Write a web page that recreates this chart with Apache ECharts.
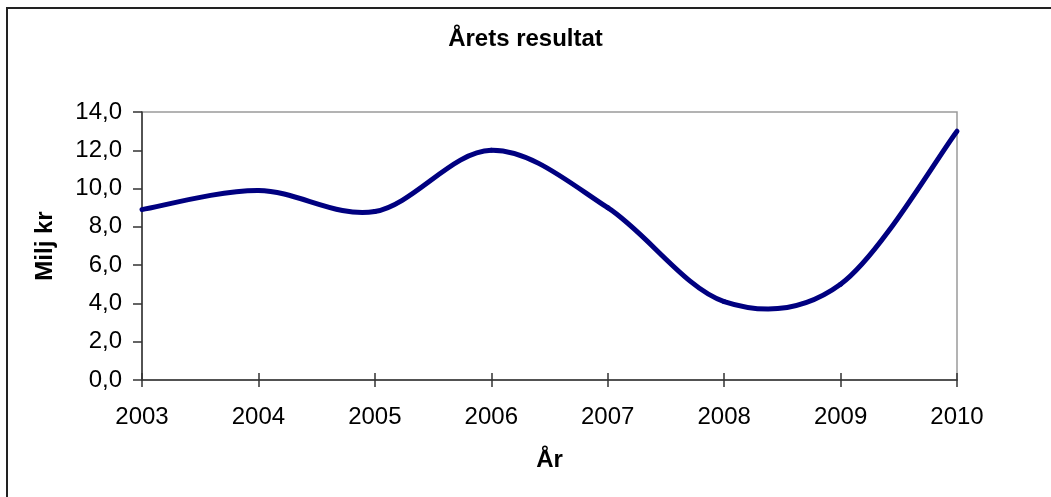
<!DOCTYPE html>
<html lang="sv">
<head>
    <meta charset="UTF-8">
    <title>Årets resultat</title>
    <style>
        html, body { margin: 0; padding: 0; background: #fff; }
        #main { width: 1051px; height: 497px; }
    </style>
</head>
<body>
<div id="main"></div>
<script src="https://cdn.jsdelivr.net/npm/echarts@6/dist/echarts.min.js"></script>
<script>
    // år på x-axeln
    var years = ['2003', '2004', '2005', '2006', '2007', '2008', '2009', '2010'];
    // årets resultat, milj kr
    var resultat = [8.9, 9.9, 8.8, 12.0, 9.0, 4.1, 5.0, 13.0];
    // y-axelns skala
    var yMin = 0, yMax = 14, yStep = 2;

    var font = 'Arial, "Liberation Sans", sans-serif';
    var myChart = echarts.init(document.getElementById('main'));

    // Excel-liknande utjämning (Catmull-Rom), ett segment per datapunkt
    function renderSmooth(params, api) {
        var i = params.dataIndex;
        var n = resultat.length;
        if (i >= n - 1) return null;
        var p = function (k) {
            k = Math.max(0, Math.min(n - 1, k));
            return api.coord([k, resultat[k]]);
        };
        var p0 = p(i - 1), p1 = p(i), p2 = p(i + 1), p3 = p(i + 2);
        return {
            type: 'bezierCurve',
            shape: {
                x1: p1[0], y1: p1[1],
                x2: p2[0], y2: p2[1],
                cpx1: p1[0] + (p2[0] - p0[0]) / 6,
                cpy1: p1[1] + (p2[1] - p0[1]) / 6,
                cpx2: p2[0] - (p3[0] - p1[0]) / 6,
                cpy2: p2[1] - (p3[1] - p1[1]) / 6
            },
            style: { stroke: '#000080', lineWidth: 5, fill: null, lineCap: 'round' }
        };
    }

    var option = {
        backgroundColor: '#fff',
        animation: false,
        title: {
            text: 'Årets resultat',
            left: 'center',
            top: 22,
            textStyle: { fontFamily: font, fontSize: 24, fontWeight: 'bold', color: '#000' }
        },
        grid: {
            left: 142, right: 94, top: 112, bottom: 117,
            show: true, borderColor: '#9a9a9a', borderWidth: 1.5
        },
        xAxis: [{
            type: 'category',
            data: years,
            boundaryGap: false,
            name: 'År',
            nameLocation: 'middle',
            nameGap: 68,
            nameTextStyle: { fontFamily: font, fontSize: 24, fontWeight: 'bold', color: '#000' },
            axisLine: { lineStyle: { color: '#333', width: 1.5 } },
            axisTick: { length: 7, lineStyle: { color: '#333', width: 1.5 } },
            axisLabel: { margin: 25, fontFamily: font, fontSize: 24, color: '#000' },
            splitLine: { show: false }
        }, {
            // inre ticks (korsande)
            type: 'category',
            data: years,
            boundaryGap: false,
            position: 'bottom',
            axisLine: { show: false },
            axisTick: { inside: true, length: 7, lineStyle: { color: '#333', width: 1.5 } },
            axisLabel: { show: false },
            splitLine: { show: false }
        }],
        yAxis: {
            type: 'value',
            min: yMin, max: yMax, interval: yStep,
            name: 'Milj kr',
            nameLocation: 'middle',
            nameGap: 85,
            nameTextStyle: { fontFamily: font, fontSize: 24, fontWeight: 'bold', color: '#000' },
            axisLine: { show: true, lineStyle: { color: '#333', width: 1.5 } },
            axisTick: { show: true, length: 9, lineStyle: { color: '#333', width: 1.5 } },
            axisLabel: {
                margin: 20, fontFamily: font, fontSize: 24, color: '#000',
                formatter: function (v) { return v.toFixed(1).replace('.', ','); }
            },
            splitLine: { show: false }
        },
        graphic: [
            { type: 'line', shape: { x1: 6, y1: 8, x2: 1051, y2: 8 }, style: { stroke: '#222', lineWidth: 2 } },
            { type: 'line', shape: { x1: 7, y1: 8, x2: 7, y2: 497 }, style: { stroke: '#222', lineWidth: 2 } }
        ],
        series: [{
            type: 'custom',
            data: resultat,
            renderItem: renderSmooth,
            clip: false
        }]
    };

    myChart.setOption(option);
</script>
</body>
</html>
